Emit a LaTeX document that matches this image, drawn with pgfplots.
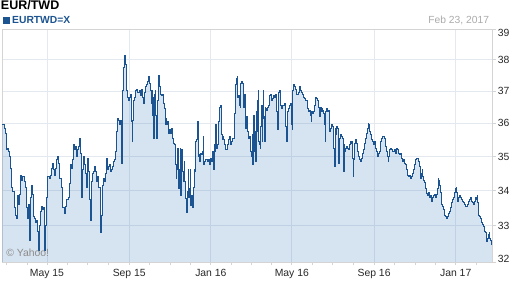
\documentclass[border=0pt]{standalone}
\usepackage{pgfplots}
\pgfplotsset{compat=1.18}
\usepackage{pgfplotstable}
\usepackage{fontspec}
\setmainfont{Liberation Sans}
\definecolor{linec}{RGB}{28,84,145}
\definecolor{fillbase}{RGB}{30,100,170}
\definecolor{gridc}{RGB}{228,233,240}
\definecolor{framec}{RGB}{212,212,212}
\definecolor{datec}{RGB}{170,170,170}
\definecolor{yahooc}{RGB}{140,140,140}
\definecolor{labelc}{RGB}{40,40,40}
% day 0 = 23 Feb 2015
\pgfplotstableread{
d v
0 35.95
2.8 35.85
4.3 35.7
5.8 35.2
7.8 35.25
9.7 35.15
10.2 35.0
11.7 34.65
13.2 34.35
14.2 34.1
15.7 33.97
17.7 33.5
19.2 33.3
20.7 33.2
22.7 33.87
24.2 33.6
25.7 33.9
27.7 34.45
29.2 34.3
30.7 34.4
32.7 34.26
34.2 34.1
35.6 33.8
36.6 33.5
38.1 33.2
39.6 33.6
40.6 32.6
41.6 33.8
43.1 34.15
44.6 33.9
46.1 33.25
47.6 33.2
49.1 33.1
50.6 33.15
52.6 32.85
54.1 32.3
55.6 33.0
57.1 33.4
58.6 33.55
60.0 33.45
61.5 33.5
63.0 32.3
64.0 33.0
66.5 33.8
68.0 34.4
70.0 34.35
71.5 34.45
73.0 34.65
74.5 34.8
76.0 34.6
77.5 34.45
79.0 34.65
81.5 34.9
83.0 35.0
84.4 34.8
86.4 34.35
88.4 34.08
90.4 33.5
92.4 33.35
94.4 33.55
96.4 33.75
98.4 33.8
100.4 34.2
101.9 34.75
103.4 34.65
105.4 34.9
106.4 35.35
108.4 35.2
109.8 35.3
111.3 35.0
112.8 35.2
114.3 35.3
115.8 35.55
117.3 35.1
118.8 33.8
119.8 34.6
121.3 35.0
122.3 34.75
123.8 34.7
124.8 34.5
125.3 34.1
126.3 34.08
127.3 34.95
128.8 34.55
130.3 33.75
131.3 33.15
132.8 34.26
134.3 34.3
135.7 34.5
137.2 34.55
138.7 34.7
140.2 34.55
141.2 34.26
142.2 34.4
143.7 34.1
145.2 34.08
146.2 33.35
147.2 32.8
148.2 33.3
149.2 34.15
150.7 34.35
152.2 34.26
153.7 34.5
155.2 34.75
156.2 34.95
157.7 34.6
159.2 34.7
160.7 34.75
162.1 34.55
163.6 34.6
165.1 34.7
166.6 34.85
168.1 34.9
169.6 35.15
171.1 35.75
172.6 36.15
173.6 36.1
175.1 35.95
176.6 36.1
177.6 35.65
178.1 34.8
179.1 35.75
180.1 37.0
181.1 37.75
182.1 38.05
183.1 38.15
184.1 37.85
185.1 37.5
186.0 37.0
187.5 36.8
189.0 36.7
190.5 36.8
192.0 36.9
193.5 36.05
194.5 35.45
195.5 36.1
197.0 36.7
198.5 36.8
200.0 37.0
201.5 37.05
203.0 36.95
204.5 37.0
206.0 36.85
207.5 37.0
208.9 37.05
210.4 36.8
211.9 36.6
213.4 36.95
214.9 37.15
216.4 37.2
217.9 37.3
219.4 37.45
220.4 37.25
221.9 37.0
222.9 36.6
223.9 37.0
224.9 36.25
225.9 36.8
226.9 35.55
227.9 36.9
228.9 37.0
229.9 36.25
230.9 35.55
231.9 36.7
232.9 37.35
233.9 37.5
234.8 37.25
235.8 37.15
236.8 36.9
238.3 36.85
239.8 36.9
240.8 36.6
242.3 36.55
243.3 36.45
244.3 35.95
245.3 36.15
246.3 35.95
247.3 36.05
248.8 35.7
250.3 35.8
251.8 35.7
253.3 35.85
254.8 35.55
256.3 35.4
257.7 35.35
259.2 34.75
260.2 34.35
261.2 34.6
262.2 35.25
263.2 34.07
264.2 34.6
265.2 34.07
266.2 35.25
267.2 33.87
268.2 35.2
269.2 34.55
270.2 34.55
271.2 34.26
272.2 34.85
273.2 34.26
274.2 33.78
275.2 33.5
276.2 33.38
277.2 33.97
278.2 34.6
279.2 33.8
280.2 34.07
281.2 34.6
282.2 33.58
283.1 33.85
284.1 33.5
285.6 34.1
287.1 34.62
288.6 34.55
289.6 35.45
291.1 35.5
292.1 36.05
293.1 35.0
294.6 35.05
295.6 34.85
296.6 35.1
298.1 35.05
299.6 35.15
300.6 35.6
301.6 34.75
303.1 34.85
304.6 34.9
306.1 34.9
307.5 34.85
309.0 34.9
310.5 34.75
312.0 34.95
313.5 34.85
315.0 35.15
316.5 34.6
317.5 35.35
318.5 35.15
319.5 35.95
320.5 35.25
322.0 35.35
323.5 36.05
325.0 36.5
326.5 36.55
327.5 36.5
328.5 35.65
329.5 35.5
330.5 35.6
331.5 35.5
333.0 35.35
334.4 35.2
335.9 35.2
337.4 35.35
338.9 35.5
340.4 35.6
341.9 35.35
343.4 35.45
344.9 35.55
346.4 35.55
347.4 36.3
348.4 37.15
349.4 37.2
350.4 37.4
351.4 37.45
352.4 36.8
353.4 36.85
354.4 36.55
355.9 36.5
356.9 37.25
357.8 37.3
359.3 37.25
360.3 36.9
361.3 36.5
362.3 36.9
363.3 35.95
364.3 35.85
365.3 36.2
366.3 35.95
367.3 35.75
368.8 35.55
370.3 35.6
371.8 35.15
372.8 35.0
373.8 35.65
374.8 34.75
375.8 36.25
376.8 35.15
377.8 35.75
378.8 34.85
379.8 36.35
380.8 35.75
381.8 36.7
382.8 37.0
383.7 35.45
384.7 35.35
385.7 35.25
386.7 35.9
387.7 36.55
388.7 35.45
389.7 36.15
390.2 37.0
391.2 36.2
392.2 35.45
393.2 36.5
394.2 36.45
395.7 36.4
397.2 36.5
398.7 36.55
400.2 36.85
401.2 36.9
402.2 36.7
403.7 36.75
405.2 36.85
406.7 36.8
408.1 36.9
409.6 36.7
410.6 36.35
411.6 35.8
412.6 36.95
414.1 37.0
415.6 36.9
416.6 36.55
417.6 36.45
419.1 36.55
420.6 36.55
422.1 36.6
423.1 36.0
424.1 35.9
425.1 35.45
426.1 35.95
427.1 36.35
428.1 36.45
429.1 36.55
430.6 36.6
432.1 36.55
433.0 35.95
433.5 35.8
434.5 37.0
435.5 37.2
437.0 37.15
438.5 37.05
440.0 36.9
441.5 36.88
443.0 36.95
444.5 37.15
446.0 37.0
447.5 36.95
449.0 36.9
450.5 36.8
452.0 36.75
453.5 36.7
455.0 36.7
456.5 36.45
458.0 36.35
459.4 36.4
460.9 36.25
461.9 36.05
462.9 36.35
464.4 36.3
465.9 36.35
467.4 36.55
468.9 36.8
470.4 36.75
471.9 36.7
472.9 36.5
473.9 36.45
474.9 36.2
475.9 36.5
477.4 36.35
478.4 36.45
479.4 36.4
480.4 36.3
481.4 35.95
482.8 35.45
483.8 36.35
485.3 36.45
486.3 36.35
487.8 36.4
488.8 35.75
490.3 35.85
491.8 35.95
493.3 35.9
494.8 35.25
495.8 35.25
496.8 34.7
497.8 35.85
498.8 35.65
499.8 35.9
501.3 35.85
502.3 35.25
503.3 34.8
504.3 35.55
505.8 35.65
507.3 35.6
508.7 35.55
509.7 35.2
510.7 34.55
511.2 35.35
512.2 35.15
513.7 35.25
515.2 35.3
516.7 35.25
517.7 35.2
518.7 35.35
520.2 35.45
521.2 35.4
522.7 35.45
523.7 34.95
524.7 34.4
525.7 34.9
526.7 35.4
528.2 35.5
529.2 35.4
530.7 35.15
532.2 35.0
533.6 34.9
535.1 34.85
536.6 34.95
538.1 35.1
539.6 35.2
541.1 35.4
542.6 35.55
544.1 35.7
545.6 35.85
547.1 36.0
548.1 35.95
549.6 35.75
551.1 35.65
552.6 35.5
554.1 35.45
555.6 35.35
557.1 35.45
558.5 35.25
560.0 35.15
561.5 35.0
563.0 35.1
564.5 35.15
566.0 35.45
567.5 35.55
569.0 35.6
570.5 35.6
572.0 35.55
573.5 35.3
575.0 35.15
576.0 35.0
577.0 34.85
578.0 35.0
579.5 35.2
581.0 35.25
582.5 35.2
583.9 35.15
585.4 35.15
586.9 35.2
588.4 35.1
589.9 35.25
591.4 35.2
592.9 35.1
594.4 35.05
595.9 35.1
597.4 34.95
598.9 34.85
600.4 34.9
601.9 34.8
603.4 34.75
604.9 34.6
606.4 34.45
607.9 34.4
609.3 34.45
610.8 34.35
612.3 34.4
613.8 34.5
615.3 34.6
616.8 34.75
618.3 34.9
619.8 34.95
621.3 34.95
622.8 34.85
624.3 34.7
625.3 34.35
626.3 34.5
627.8 34.6
628.8 34.4
629.8 34.3
630.8 34.25
632.3 34.07
633.8 33.93
635.2 33.85
636.7 33.95
638.2 33.8
639.7 33.85
641.2 33.7
642.7 33.8
644.2 33.85
645.7 33.9
647.2 33.8
648.7 33.9
650.2 34.07
651.7 34.35
652.7 34.3
654.2 34.15
655.7 33.95
657.2 33.6
658.7 33.55
660.1 33.45
661.6 33.3
663.1 33.25
664.6 33.2
666.1 33.25
667.6 33.35
669.1 33.4
670.6 33.5
672.1 33.65
673.6 33.75
675.1 33.8
676.6 33.95
677.6 34.07
678.6 34.1
679.6 33.95
680.6 33.7
682.1 33.8
683.5 33.85
685.0 33.8
686.5 33.75
688.0 33.7
689.5 33.65
691.0 33.6
692.5 33.55
694.0 33.55
695.5 33.6
697.0 33.7
698.5 33.75
700.0 33.8
701.5 33.7
703.0 33.65
704.5 33.6
706.0 33.7
707.5 33.8
708.9 33.75
709.9 33.85
710.9 33.65
711.9 33.3
713.4 33.25
714.9 33.2
716.4 33.1
717.9 33.05
719.4 32.97
720.9 32.85
722.4 32.8
723.4 32.55
724.9 32.65
726.4 32.75
727.9 32.8
728.9 32.65
729.9 32.6
730.9 32.5
731.9 32.45
}\eurtwd

\begin{document}
\begin{tikzpicture}
\path[use as bounding box] (-2.15pt,-26pt) rectangle (509.85pt,262pt);
\begin{axis}[
  at={(0pt,0pt)}, anchor=south west,
  scale only axis, width=490.35pt, height=233pt,
  xmin=0, xmax=733,
  ymode=log, ymin=32, ymax=39,
  ytick={33,34,35,36,37,38},
  yticklabels={33,34,35,36,37,38},
  extra y ticks={32,39},
  extra y tick labels={\raisebox{-0.7pt}[0pt][0pt]{32},\raisebox{-7.2pt}[0pt][0pt]{39}},
  extra y tick style={grid=none},
  xtick={67,190,312,433,556,678},
  xticklabels={May 15,Sep 15,Jan 16,May 16,Sep 16,Jan 17},
  minor xtick={6,37,98,128,159,220,251,281,343,372,403,464,494,525,586,617,647,709},
  xtick pos=left, ytick pos=right,
  yticklabel pos=right,
  xmajorgrids, ymajorgrids,
  major grid style={gridc, line width=0.8pt},
  tick align=outside,
  major tick length=3.5pt, minor tick length=3.5pt,
  every tick/.style={framec, line width=0.8pt},
  axis line style={framec, line width=0.8pt},
  tick label style={font=\fontsize{10.4}{12}\selectfont, text=labelc},
  xticklabel style={anchor=base, yshift=-10.8pt},
  yticklabel style={anchor=west, inner sep=0pt, xshift=1.6pt},
  clip=true,
]
\addplot[const plot, draw=none, fill=fillbase, fill opacity=0.18]
  table[x=d, y=v]{\eurtwd} \closedcycle;
\addplot[const plot, color=linec, line width=0.9pt, mark=none]
  table[x=d, y=v]{\eurtwd};
\end{axis}
\node[anchor=base west, inner sep=0pt, font=\bfseries\fontsize{12.5}{14}\selectfont] at (-1.35pt,252pt) {EUR/TWD};
\fill[linec] (0.55pt,238pt) rectangle (7.85pt,245.3pt);
\node[anchor=base west, inner sep=0pt, text=linec, font=\bfseries\fontsize{10.3}{12}\selectfont] at (9.85pt,238pt) {EURTWD=X};
\node[anchor=base east, inner sep=0pt, text=datec, font=\fontsize{10.3}{12}\selectfont] at (487.1pt,238pt) {Feb 23, 2017};
\node[anchor=base west, inner sep=0pt, text=yahooc, font=\fontsize{10.4}{12}\selectfont] at (4pt,5.3pt) {© Yahoo!};
\end{tikzpicture}
\end{document}
